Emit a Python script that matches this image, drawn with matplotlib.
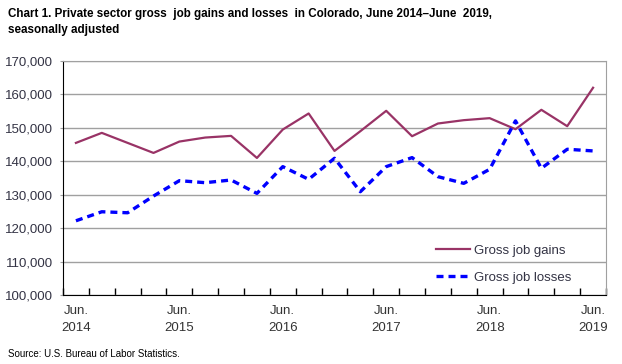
import matplotlib.pyplot as plt
import numpy as np

# Quarterly values, June 2014 - June 2019
quarters = ["Jun. 2014", "Sep. 2014", "Dec. 2014", "Mar. 2015", "Jun. 2015",
            "Sep. 2015", "Dec. 2015", "Mar. 2016", "Jun. 2016", "Sep. 2016",
            "Dec. 2016", "Mar. 2017", "Jun. 2017", "Sep. 2017", "Dec. 2017",
            "Mar. 2018", "Jun. 2018", "Sep. 2018", "Dec. 2018", "Mar. 2019",
            "Jun. 2019"]
gains = [145500, 148500, 145500, 142500, 145900, 147100, 147600, 141000,
         149500, 154300, 143100, 149000, 155100, 147500, 151300, 152300,
         152900, 149600, 155400, 150500, 162000]
losses = [122200, 124900, 124600, 129600, 134200, 133600, 134400, 130400,
          138400, 134600, 140900, 130900, 138400, 141100, 135400, 133400,
          137600, 152100, 137900, 143600, 143100]
label_idx = [0, 4, 8, 12, 16, 20]
tick_labels = ["Jun.\n2014", "Jun.\n2015", "Jun.\n2016", "Jun.\n2017",
               "Jun.\n2018", "Jun.\n2019"]

plt.rcParams['font.family'] = ['Liberation Sans', 'DejaVu Sans']

fig = plt.figure(figsize=(6.22, 3.64), dpi=100)
ax = fig.add_axes([63 / 622, 69 / 364, 543 / 622, 234 / 364])

x = np.arange(len(quarters))
ax.plot(x, gains, color='#993366', lw=1.6, label='Gross job gains')
ax.plot(x, losses, color='#0000ff', lw=2.4, linestyle=(0, (2.1, 1.5)),
        label='Gross job losses')

ax.set_xlim(-0.5, len(quarters) - 0.5)
ax.set_ylim(100000, 170000)
ax.set_yticks(range(100000, 170001, 10000))
ax.set_yticklabels([f"{v:,}" for v in range(100000, 170001, 10000)])
ax.yaxis.grid(True, color='#a0a0a0', lw=1.0)
ax.set_axisbelow(True)

# category boundaries get the tick marks, labels sit under the points
ax.set_xticks(np.arange(-0.5, len(quarters), 1.0))
ax.set_xticklabels([])
ax.set_xticks(label_idx, minor=True)
ax.set_xticklabels(tick_labels, minor=True)
ax.tick_params(axis='x', which='major', length=5, width=1, direction='in',
               color='black')
ax.tick_params(axis='x', which='minor', length=0, pad=7, labelsize=9.5,
               labelcolor='#333333')
ax.tick_params(axis='y', length=2, color='#a0a0a0', labelsize=9.5,
               labelcolor='#333344', pad=5)
for lab in ax.get_xticklabels(minor=True):
    lab.set_linespacing(1.6)

ax.spines['left'].set_color('black')
ax.spines['bottom'].set_color('black')
ax.spines['top'].set_color('#a0a0a0')
ax.spines['right'].set_color('#a0a0a0')

leg = ax.legend(loc='lower left', bbox_to_anchor=(0.665, -0.004),
                frameon=False, fontsize=9.5, handlelength=2.6,
                handletextpad=0.3, labelspacing=1.15)
for t in leg.get_texts():
    t.set_color('#333344')

fig.text(8 / 622, 1 - 8 / 364,
         "Chart 1. Private sector gross  job gains and losses  in Colorado, June 2014\u2013June  2019,\nseasonally adjusted",
         fontsize=8.4, fontweight='bold', va='top', ha='left',
         linespacing=1.4)
fig.text(8 / 622, 1 - 359 / 364, "Source: U.S. Bureau of Labor Statistics.",
         fontsize=7, va='bottom', ha='left')

fig.savefig("out.png", dpi=100)
